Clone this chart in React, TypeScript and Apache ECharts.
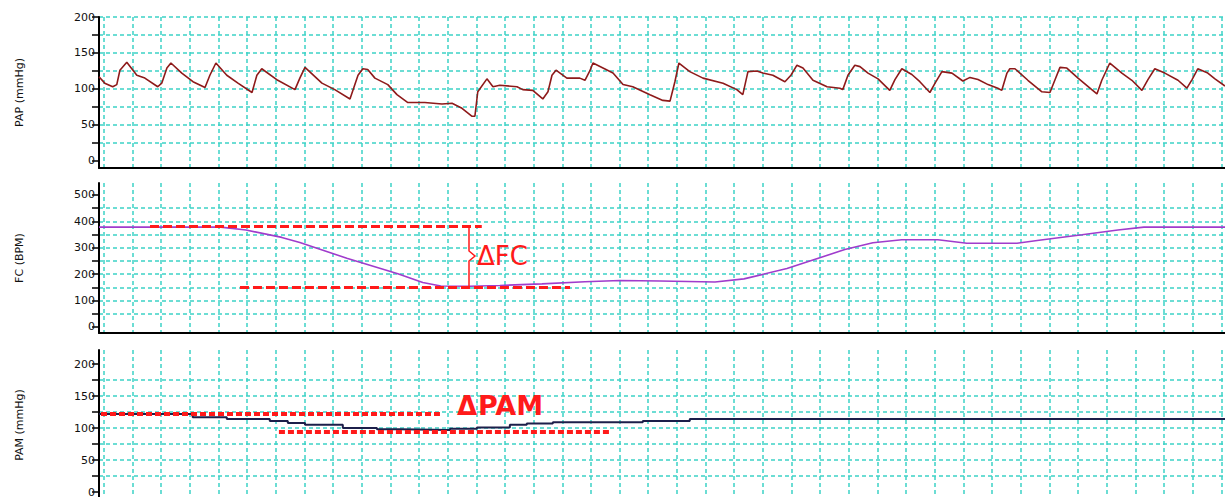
import React, { useEffect, useRef } from "react";
import * as echarts from "echarts";

// ---- data (time in grid units, one unit = one vertical grid division) ----
const papTime = [
  -0.17, 0.03, 0.31, 0.45, 0.56, 0.8, 1.15, 1.43, 1.88, 2.02, 2.2, 2.34, 2.72, 3.11, 3.53, 3.7, 3.91, 4.29, 4.68,
  5.17, 5.34, 5.51, 6.07, 6.67, 6.84, 7.02, 7.61, 8.06, 8.59, 8.87, 9.04, 9.21, 9.46, 9.91, 10.23, 10.61, 11.2,
  11.8, 12.15, 12.5, 12.84, 12.95, 13.05, 13.37, 13.58, 13.82, 14.42, 14.62, 14.97, 15.32, 15.5, 15.64, 15.78,
  16.16, 16.61, 16.79, 16.96, 17.07, 17.42, 17.77, 18.12, 18.46, 19.06, 19.51, 19.76, 19.93, 20.07, 20.45, 20.91,
  21.61, 22.09, 22.3, 22.48, 22.79, 23.0, 23.35, 23.77, 23.98, 24.19, 24.4, 24.75, 25.24, 25.69, 25.79, 25.97,
  26.21, 26.39, 26.67, 27.02, 27.43, 27.61, 27.85, 28.2, 28.48, 28.83, 29.01, 29.25, 29.6, 29.98, 30.23, 30.51,
  30.86, 31.2, 31.34, 31.52, 31.62, 31.8, 32.25, 32.74, 33.02, 33.19, 33.37, 33.61, 34.0, 34.48, 34.66, 34.83,
  35.11, 35.53, 35.88, 36.23, 36.44, 36.68, 37.03, 37.49, 37.8, 37.98, 38.18, 38.53, 38.78, 39.13,
];
const papValues = [
  117, 108, 103, 106, 126, 137, 119, 115, 103, 108, 129, 136, 122, 110, 102, 119, 136, 119, 108,
  95, 119, 128, 112, 99, 115, 130, 108, 99, 86, 119, 128, 127, 115, 106, 92, 81, 81,
  79, 80, 73, 62, 62, 96, 114, 103, 105, 103, 99, 98, 86, 96, 119, 126,
  115, 115, 112, 125, 136, 129, 122, 106, 103, 92, 84, 83, 110, 136, 124, 115,
  108, 99, 92, 124, 125, 122, 119, 110, 119, 133, 129, 112, 103, 101, 99, 119,
  133, 131, 122, 114, 98, 113, 128, 120, 110, 95, 108, 124, 122, 111, 116, 113,
  106, 101, 98, 122, 128, 128, 112, 96, 95, 112, 130, 129, 115, 99, 93, 112,
  136, 122, 112, 98, 113, 128, 122, 112, 101, 113, 128, 122, 114, 104,
];

const fcTime = [
  -0.17, 4.08, 4.96, 6.21, 6.84, 8.48, 10.26, 11.13, 11.76, 12.77, 13.82, 15.29, 16.79, 18.01, 19.41, 21.33,
  22.34, 23.84, 25.86, 26.84, 27.85, 29.11, 30.12, 31.87, 32.64, 34.14, 35.39, 36.3, 39.13,
];
const fcValues = [
  378, 378, 367, 339, 320, 260, 201, 168, 155, 154, 157, 163, 171, 176, 174, 170,
  182, 221, 293, 319, 330, 330, 317, 317, 328, 349, 367, 378, 378,
];

const pamTime = [
  -0.17, 3.1, 4.29, 5.79, 6.42, 7.02, 8.34, 9.53, 10.33, 12.08, 13.02, 14.17, 14.76, 15.67, 18.81, 20.45, 39.13,
];
const pamValues = [122, 117, 114, 111, 108, 105, 100, 98, 97, 99, 101, 105, 107, 109, 111, 114, 114];

// annotation levels (data units)
const fcRefTop = { from: 1.61, to: 13.19, value: 380 };
const fcRefBottom = { from: 4.75, to: 16.27, value: 151 };
const pamRefTop = { from: -0.1, to: 11.73, value: 123 };
const pamRefBottom = { from: 6.11, to: 17.66, value: 94 };

const papTicks = [0, 25, 50, 75, 100, 125, 150, 175, 200];
const papLabels = [0, 50, 100, 150, 200];
const fcTicks = [0, 50, 100, 150, 200, 250, 300, 350, 400, 450, 500];
const fcLabels = [0, 100, 200, 300, 400, 500];
const pamTicks = [0, 25, 50, 75, 100, 125, 150, 175, 200];
const pamLabels = [0, 50, 100, 150, 200];

const X_MIN = -0.17;
const X_MAX = 39.13;

const GRID_COLOR = "#3cd2c6";
const RED = "#ff1a1a";

const zip = (a: number[], b: number[]) => a.map((t, i) => [t, b[i]]);

export default function App() {
  const ref = useRef<HTMLDivElement>(null);

  useEffect(() => {
    if (!ref.current) return;
    const chart = echarts.init(ref.current, undefined, { renderer: "svg" });

    const splitLine = (showMax: boolean) => ({
      show: true,
      showMinLine: false,
      showMaxLine: showMax,
      lineStyle: { color: GRID_COLOR, width: 1.5, type: [4, 3] },
    });

    const xAxis = (i: number) => ({
      type: "value",
      gridIndex: i,
      min: X_MIN,
      max: X_MAX,
      minInterval: 1,
      maxInterval: 1,
      axisLine: { show: i < 2, onZero: false, lineStyle: { color: "#000", width: 2 } },
      axisTick: { show: false },
      axisLabel: { show: false },
      splitLine: splitLine(false),
    });

    const yAxis = (
      i: number,
      name: string,
      min: number,
      max: number,
      step: number,
      ticks: number[],
      labels: number[],
      showMax: boolean
    ) => ({
      type: "value",
      gridIndex: i,
      min,
      max,
      minInterval: step,
      maxInterval: step,
      name,
      nameLocation: "middle",
      nameGap: 74,
      nameTextStyle: { fontFamily: "DejaVu Sans", fontSize: 11, color: "#111" },
      axisLine: { show: true, onZero: false, lineStyle: { color: "#000", width: 2 } },
      axisTick: { show: true, length: 7, customValues: ticks, lineStyle: { color: "#000", width: 1.5 } },
      axisLabel: {
        show: true,
        customValues: labels,
        margin: 4,
        fontFamily: "DejaVu Sans",
        fontSize: 11,
        color: "#111",
        formatter: (v: number) => (labels.indexOf(v) >= 0 ? String(v) : ""),
      },
      splitLine: splitLine(showMax),
    });

    const refLine = (r: { from: number; to: number; value: number }) => [
      { coord: [r.from, r.value] },
      { coord: [r.to, r.value] },
    ];

    chart.setOption({
      animation: false,
      backgroundColor: "#ffffff",
      grid: [
        { left: 99, top: 17, width: 1126, height: 151 },
        { left: 99, top: 183, width: 1126, height: 150 },
        { left: 99, top: 350, width: 1126, height: 150 },
      ],
      xAxis: [xAxis(0), xAxis(1), xAxis(2)],
      yAxis: [
        yAxis(0, "PAP (mmHg)", -10, 200, 25, papTicks, papLabels, true),
        yAxis(1, "FC (BPM)", -23, 545, 50, fcTicks, fcLabels, false),
        yAxis(2, "PAM (mmHg)", -12.5, 222, 25, pamTicks, pamLabels, false),
      ],
      series: [
        {
          type: "line",
          xAxisIndex: 0,
          yAxisIndex: 0,
          data: zip(papTime, papValues),
          showSymbol: false,
          lineStyle: { color: "#8e1a1a", width: 1.6 },
        },
        {
          type: "line",
          xAxisIndex: 1,
          yAxisIndex: 1,
          data: zip(fcTime, fcValues),
          showSymbol: false,
          lineStyle: { color: "#a03ccc", width: 1.6 },
          markLine: {
            silent: true,
            symbol: ["none", "none"],
            label: { show: false },
            lineStyle: { color: RED, width: 3, type: [9, 4] },
            data: [refLine(fcRefTop), refLine(fcRefBottom)],
          },
        },
        {
          type: "line",
          xAxisIndex: 2,
          yAxisIndex: 2,
          data: zip(pamTime, pamValues),
          step: "end",
          showSymbol: false,
          lineStyle: { color: "#1c1f4a", width: 2 },
          markLine: {
            silent: true,
            symbol: ["none", "none"],
            label: { show: false },
            lineStyle: { color: RED, width: 4, type: [6, 3] },
            data: [refLine(pamRefTop), refLine(pamRefBottom)],
          },
        },
      ],
      graphic: [
        {
          type: "polyline",
          shape: { points: [[469, 226], [469, 251], [475, 256], [469, 261], [469, 287]] },
          style: { stroke: RED, lineWidth: 1.5, fill: "none" },
          z: 100,
        },
        {
          type: "text",
          x: 477,
          y: 256,
          style: {
            text: "ΔFC",
            fill: RED,
            font: '26px "DejaVu Sans"',
            verticalAlign: "middle",
          },
          z: 100,
        },
        {
          type: "text",
          x: 457,
          y: 406,
          style: {
            text: "Δ",
            fill: RED,
            font: 'bold 26px "DejaVu Sans"',
            verticalAlign: "middle",
          },
          z: 100,
        },
        {
          type: "text",
          x: 478,
          y: 405,
          style: {
            text: "PAM",
            fill: RED,
            font: 'bold 27px "DejaVu Sans"',
            verticalAlign: "middle",
          },
          z: 100,
        },
      ],
    });

    return () => chart.dispose();
  }, []);

  return (
    <div
      ref={ref}
      style={{ position: "fixed", left: 0, top: 0, width: 1225, height: 510, background: "#fff" }}
    />
  );
}
